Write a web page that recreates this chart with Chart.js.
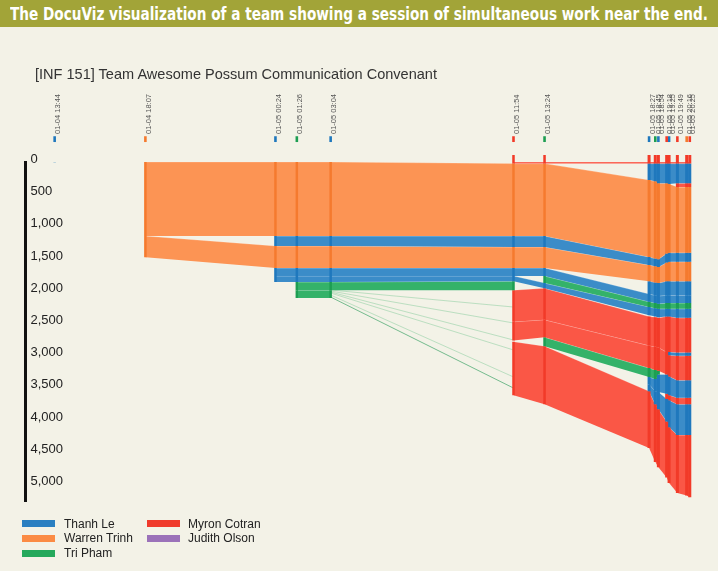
<!DOCTYPE html>
<html><head><meta charset="utf-8">
<script src="https://cdn.jsdelivr.net/npm/chart.js@4.4.1/dist/chart.umd.min.js"></script>
<style>
html,body{margin:0;padding:0}
body{width:718px;height:571px;background:#f3f2e7;position:relative;overflow:hidden;font-family:"Liberation Sans",Arial,sans-serif}
#wrap{position:absolute;left:0;top:0;width:718px;height:571px}
#hdr{position:absolute;left:0;top:0;width:718px;height:27px;background:#a2a438}
#hdrText{position:absolute;left:10px;top:4px;color:#fff;font:bold 18px "DejaVu Sans Condensed","Liberation Sans Narrow",sans-serif;line-height:20px;white-space:nowrap;transform-origin:0 0}
#sub{position:absolute;left:35px;top:64px;font:14.5px "Liberation Sans",Arial,sans-serif;color:#333;white-space:nowrap;line-height:20px;transform-origin:0 0}
.lg{position:absolute;font:12px "Liberation Sans",Arial,sans-serif;color:#222;line-height:14px;white-space:nowrap}
.sw{position:absolute;width:33px;height:7px}
</style></head>
<body>
<div id="wrap"><canvas id="c"></canvas></div>
<div id="hdr"><span id="hdrText">The DocuViz visualization of a team showing a session of simultaneous work near the end.</span></div>
<div id="sub">[INF 151] Team Awesome Possum Communication Convenant</div>
<div id="legend"></div>
<script>
// ---- data ----
const authorKeys  = ['T', 'W', 'P', 'M', 'J'];
const authorNames = ['Thanh Le', 'Warren Trinh', 'Tri Pham', 'Myron Cotran', 'Judith Olson'];

const revisionLabels = ['01-04 13:44', '01-04 18:07', '01-05 00:24', '01-05 01:26', '01-05 03:04',
  '01-05 11:54', '01-05 13:24', '01-05 18:27', '01-05 18:45', '01-05 18:54', '01-05 19:18',
  '01-05 19:25', '01-05 19:49', '01-05 20:16', '01-05 20:25'];
const revisionAuthors = ['T', 'W', 'T', 'P', 'T', 'M', 'P', 'T', 'P', 'T', 'M', 'T', 'M', 'W', 'M'];

const yTickValues = [0, 500, 1000, 1500, 2000, 2500, 3000, 3500, 4000, 4500, 5000];

// each revision: [text chunk, author, start char, end char]
const rev0 = [['t0', 'T', 0, 5]];
const rev1 = [['w1', 'W', 0, 1149], ['w2', 'W', 1149, 1480]];
const rev2 = [['w1', 'W', 0, 1149], ['t1', 'T', 1149, 1304], ['w2', 'W', 1304, 1646], ['t2a', 'T', 1646, 1770], ['t2b', 'T', 1770, 1863]];
const rev3 = [['w1', 'W', 0, 1149], ['t1', 'T', 1149, 1304], ['w2', 'W', 1304, 1646], ['t2a', 'T', 1646, 1770], ['t2b', 'T', 1770, 1863], ['p1', 'P', 1863, 1990], ['p2', 'P', 1990, 2112]];
const rev4 = [['w1', 'W', 0, 1149], ['t1', 'T', 1149, 1304], ['w2', 'W', 1304, 1646], ['t2a', 'T', 1646, 1770], ['t2b', 'T', 1770, 1863], ['p1', 'P', 1863, 1990], ['p2', 'P', 1990, 2112]];
const rev5 = [['cap', 'M', -110, 0], ['m0', 'M', 0, 25], ['w1', 'W', 25, 1149], ['t1', 'T', 1149, 1320], ['w2', 'W', 1320, 1646], ['t2a', 'T', 1646, 1770], ['t2b', 'T', 1770, 1850], ['p1', 'P', 1850, 1990], ['m1a', 'M', 1990, 2480], ['m1b', 'M', 2480, 2770], ['m2', 'M', 2790, 3620]];
const rev6 = [['cap', 'M', -110, 0], ['m0', 'M', 0, 25], ['w1', 'W', 25, 1149], ['t1', 'T', 1149, 1320], ['w2', 'W', 1320, 1646], ['t2a', 'T', 1646, 1770], ['p3', 'P', 1770, 1880], ['t2b', 'T', 1880, 1960], ['m1a', 'M', 1960, 2450], ['m1b', 'M', 2450, 2720], ['p4', 'P', 2720, 2860], ['m2', 'M', 2860, 3760]];
const rev7 = [['cap', 'M', -110, 0], ['m0', 'M', 0, 25], ['t3', 'T', 25, 280], ['w1', 'W', 280, 1475], ['t1', 'T', 1475, 1600], ['w2', 'W', 1600, 1850], ['t5', 'T', 1850, 2050], ['t2a', 'T', 2050, 2170], ['p3', 'P', 2170, 2250], ['t2b', 'T', 2250, 2380], ['m1a', 'M', 2400, 2850], ['m1b', 'M', 2850, 3200], ['p4', 'P', 3200, 3340], ['t4a', 'T', 3340, 3450], ['t4b', 'T', 3450, 3560], ['m2', 'M', 3560, 4440]];
const rev8 = [['cap', 'M', -110, 0], ['m0', 'M', 0, 25], ['t3', 'T', 25, 300], ['w1', 'W', 300, 1500], ['t1', 'T', 1500, 1620], ['w2', 'W', 1620, 1870], ['t5', 'T', 1870, 2070], ['t2a', 'T', 2070, 2190], ['p3', 'P', 2190, 2270], ['t2b', 'T', 2270, 2400], ['m1a', 'M', 2410, 2870], ['m1b', 'M', 2870, 3230], ['p4', 'P', 3230, 3370], ['t4a', 'T', 3370, 3560], ['t4b', 'T', 3560, 3760], ['m2', 'M', 3760, 4660]];
const rev9 = [['cap', 'M', -110, 0], ['m0', 'M', 0, 25], ['t3', 'T', 25, 330], ['w1', 'W', 330, 1510], ['t1', 'T', 1510, 1630], ['w2', 'W', 1630, 1880], ['t5', 'T', 1880, 2080], ['t2a', 'T', 2080, 2200], ['p3', 'P', 2200, 2280], ['t2b', 'T', 2280, 2410], ['m1a', 'M', 2420, 2880], ['m1b', 'M', 2880, 3240], ['p4', 'P', 3240, 3300], ['t4a', 'T', 3300, 3570], ['t4b', 'T', 3570, 3840], ['m2', 'M', 3840, 4740]];
const rev10 = [['cap', 'M', -110, 0], ['m0', 'M', 0, 25], ['t3', 'T', 25, 330], ['w1', 'W', 330, 1420], ['t1', 'T', 1420, 1560], ['w2', 'W', 1560, 1850], ['t5', 'T', 1850, 2070], ['t2a', 'T', 2070, 2190], ['p3', 'P', 2190, 2280], ['t2b', 'T', 2280, 2400], ['m1a', 'M', 2400, 2950], ['m1b', 'M', 2950, 3300], ['t4a', 'T', 3300, 3600], ['m4', 'M', 3600, 3680], ['t4b', 'T', 3680, 4030], ['m2', 'M', 4030, 4900]];
const rev11 = [['cap', 'M', -110, 0], ['m0', 'M', 0, 25], ['t3', 'T', 25, 340], ['w1', 'W', 340, 1410], ['t1', 'T', 1410, 1550], ['w2', 'W', 1550, 1850], ['t5', 'T', 1850, 2070], ['t2a', 'T', 2070, 2190], ['p3', 'P', 2190, 2280], ['t2b', 'T', 2280, 2400], ['m1a', 'M', 2400, 2950], ['t6', 'T', 2950, 3000], ['m1b', 'M', 3000, 3330], ['t4a', 'T', 3330, 3620], ['m4', 'M', 3620, 3700], ['t4b', 'T', 3700, 4120], ['m2', 'M', 4120, 4985]];
const rev12 = [['cap', 'M', -110, 0], ['m0', 'M', 0, 25], ['t3', 'T', 25, 330], ['m3', 'M', 330, 390], ['w1', 'W', 390, 1410], ['t1', 'T', 1410, 1550], ['w2', 'W', 1550, 1850], ['t5', 'T', 1850, 2070], ['t2a', 'T', 2070, 2190], ['p3', 'P', 2190, 2280], ['t2b', 'T', 2280, 2420], ['m1a', 'M', 2420, 2960], ['t6', 'T', 2960, 3010], ['m1b', 'M', 3010, 3390], ['t4a', 'T', 3390, 3660], ['m4', 'M', 3660, 3760], ['t4b', 'T', 3760, 4240], ['m2', 'M', 4240, 5140]];
const rev13 = [['cap', 'M', -110, 0], ['m0', 'M', 0, 25], ['t3', 'T', 25, 330], ['m3', 'M', 330, 390], ['w1', 'W', 390, 1410], ['t1', 'T', 1410, 1550], ['w2', 'W', 1550, 1850], ['t5', 'T', 1850, 2070], ['t2a', 'T', 2070, 2190], ['p3', 'P', 2190, 2280], ['t2b', 'T', 2280, 2420], ['m1a', 'M', 2420, 2960], ['t6', 'T', 2960, 3010], ['m1b', 'M', 3010, 3390], ['t4a', 'T', 3390, 3660], ['m4', 'M', 3660, 3760], ['t4b', 'T', 3760, 4240], ['m2', 'M', 4240, 5180]];
const rev14 = [['cap', 'M', -110, 0], ['m0', 'M', 0, 25], ['t3', 'T', 25, 330], ['m3', 'M', 330, 390], ['w1', 'W', 390, 1410], ['t1', 'T', 1410, 1550], ['w2', 'W', 1550, 1850], ['t5', 'T', 1850, 2070], ['t2a', 'T', 2070, 2190], ['p3', 'P', 2190, 2280], ['t2b', 'T', 2280, 2420], ['m1a', 'M', 2420, 2960], ['t6', 'T', 2960, 3010], ['m1b', 'M', 3010, 3390], ['t4a', 'T', 3390, 3660], ['m4', 'M', 3660, 3760], ['t4b', 'T', 3760, 4240], ['m2', 'M', 4240, 5205]];
const revisions = [rev0, rev1, rev2, rev3, rev4, rev5, rev6, rev7, rev8, rev9, rev10, rev11, rev12, rev13, rev14];

// scattered green fragments kept from 01-05 03:04 into 01-05 11:54 : [char before, char after]
const greenTrails = [[1988, 2252], [2004, 2500], [2019, 2764], [2035, 2919], [2066, 3338], [2097, 3510]];

// ---- styles ----
const flowColor = {T: 'rgba(43,131,198,0.92)', W: 'rgba(253,140,72,0.92)', P: 'rgba(36,173,94,0.92)', M: 'rgba(251,74,56,0.92)', J: 'rgba(154,111,191,0.92)'};
const barColor  = {T: '#1f78bd', W: '#f57a2e', P: '#1d9e52', M: '#f23a28', J: '#8a5fb0'};
const swatchColor = {T: '#2a7fc1', W: '#fb8b44', P: '#25a95c', M: '#f03b2c', J: '#9b72b9'};

function toMinutes(lbl) {
  const [d, t] = lbl.split(' ');
  const dd = Number(d.split('-')[1]);
  const [h, m] = t.split(':').map(Number);
  return (dd - 4) * 1440 + h * 60 + m;
}
const times = revisionLabels.map(toMinutes);

const datasets = [];
const base = {type: 'line', pointRadius: 0, pointHoverRadius: 0, tension: 0, fill: false};

// revision bars
revisions.forEach((segs, i) => {
  segs.forEach(([id, a, s, e]) => {
    datasets.push({...base, data: [{x: times[i], y: s}, {x: times[i], y: e}],
      borderColor: barColor[a], borderWidth: i >= 7 ? 3 : 2.5, borderCapStyle: 'butt', clip: false, order: 0});
  });
});

// revision markers above the axis (author of each revision)
times.forEach((t, i) => {
  datasets.push({...base, data: [{x: t, y: -310}, {x: t, y: -400}],
    borderColor: barColor[revisionAuthors[i]], borderWidth: 2.6, borderCapStyle: 'butt', clip: false, order: 0});
});

// green trails
greenTrails.forEach(([a, b], k) => {
  datasets.push({...base, data: [{x: times[4], y: a}, {x: times[5], y: b}],
    borderColor: k === greenTrails.length - 1 ? 'rgba(30,150,80,0.75)' : 'rgba(40,170,90,0.35)', borderWidth: 0.8, order: 1});
});

// flows between consecutive revisions
for (let i = 0; i < revisions.length - 1; i++) {
  revisions[i].forEach(([id, a, s0, e0]) => {
    if (id === 'cap') return;
    const nxt = revisions[i + 1].find(s => s[0] === id);
    if (!nxt) return;
    const [, , s1, e1] = nxt;
    datasets.push({...base, data: [{x: times[i], y: s0}, {x: times[i + 1], y: s1}], fill: '+1',
      backgroundColor: flowColor[a], borderColor: 'rgba(255,255,255,0.35)', borderWidth: 0.6, order: 2});
    datasets.push({...base, data: [{x: times[i], y: e0}, {x: times[i + 1], y: e1}],
      borderColor: 'rgba(255,255,255,0.35)', borderWidth: 0.6, order: 2});
  });
}

const X_MIN = 739.5, X_MAX = 2707.5;

new Chart(document.getElementById('c'), {
  type: 'line',
  data: {datasets},
  options: {
    responsive: true, maintainAspectRatio: false, animation: false, events: [],
    layout: {padding: {left: 20.5, right: 10, top: 0, bottom: 70}},
    plugins: {legend: {display: false}, tooltip: {enabled: false}, title: {display: false}},
    scales: {
      x: {
        type: 'linear', position: 'top', min: X_MIN, max: X_MAX,
        grid: {display: false, drawTicks: false}, border: {display: false},
        afterFit(s) { s.height = 162; },
        afterBuildTicks(s) { s.ticks = times.map(v => ({value: v})); },
        ticks: {autoSkip: false, minRotation: 90, maxRotation: 90, padding: 28, labelOffset: 12.5,
          color: '#555', font: {family: 'Liberation Sans', size: 7.5},
          callback: (v, i) => revisionLabels[i]}
      },
      y: {
        type: 'linear', reverse: true, min: 0, max: 5264,
        grid: {display: false, drawTicks: false}, border: {display: true, color: '#111', width: 3},
        afterFit(s) { s.width = 5; },
        afterBuildTicks(s) { s.ticks = yTickValues.map(v => ({value: v})); },
        ticks: {mirror: true, padding: 5, labelOffset: -2.5, color: '#222',
          font: {family: 'Liberation Sans', size: 13},
          callback: v => Number(v).toLocaleString('en-US')}
      }
    }
  }
});

// legend
const legendPos = {T: [22, 64, 523.5], W: [22, 64, 538], P: [22, 64, 553], M: [147, 188, 523.5], J: [147, 188, 538]};
const lg = document.getElementById('legend');
authorKeys.forEach((k, i) => {
  const [sx, tx, cy] = legendPos[k];
  const sw = document.createElement('div');
  sw.className = 'sw'; sw.style.left = sx + 'px'; sw.style.top = (cy - 3.5) + 'px'; sw.style.background = swatchColor[k];
  const tt = document.createElement('div');
  tt.className = 'lg'; tt.style.left = tx + 'px'; tt.style.top = (cy - 7) + 'px'; tt.textContent = authorNames[i];
  lg.appendChild(sw); lg.appendChild(tt);
});

// fit header / subtitle text widths to the reference layout
function fitWidth(el, target) {
  const w = el.getBoundingClientRect().width;
  if (w > 0) el.style.transform = 'scaleX(' + (target / w) + ')';
}
fitWidth(document.getElementById('hdrText'), 698);
fitWidth(document.getElementById('sub'), 402);
</script>
</body></html>
